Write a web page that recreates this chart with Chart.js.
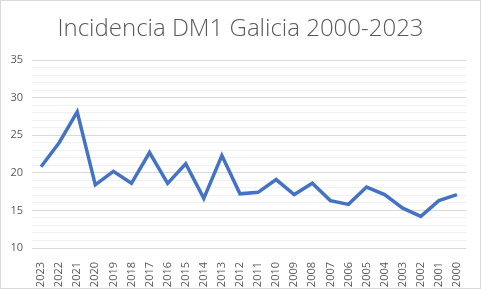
<!DOCTYPE html>
<html lang="es">
<head>
<meta charset="UTF-8">
<title>Incidencia DM1 Galicia</title>
<script src="https://cdn.jsdelivr.net/npm/chart.js"></script>
<style>
  html, body { margin: 0; padding: 0; background: #fff; }
  #wrap { width: 481px; height: 289px; }
</style>
</head>
<body>
<div id="wrap"><canvas id="dm1Chart" width="481" height="289"></canvas></div>
<script>
const years = ['2023','2022','2021','2020','2019','2018','2017','2016','2015','2014','2013','2012',
               '2011','2010','2009','2008','2007','2006','2005','2004','2003','2002','2001','2000'];
const incidence = [20.8, 24.0, 28.1, 18.4, 20.2, 18.6, 22.7, 18.6, 21.2, 16.6, 22.3, 17.2,
                   17.4, 19.1, 17.1, 18.6, 16.3, 15.8, 18.1, 17.1, 15.3, 14.2, 16.3, 17.1];
const yMin = 10, yMax = 35;
const chartTitle = 'Incidencia DM1 Galicia 2000-2023';

// fons blanc, vora grisa i títol centrat a tota l'amplada
const frame = {
  id: 'frame',
  beforeDraw(chart) {
    const c = chart.ctx;
    c.save();
    c.fillStyle = '#fff';
    c.fillRect(0, 0, chart.width, chart.height);
    c.strokeStyle = '#d9d9d9';
    c.lineWidth = 1;
    c.strokeRect(0.5, 0.5, chart.width - 1, chart.height - 1);
    c.fillStyle = '#595959';
    c.font = '300 24px "Open Sans"';
    c.textAlign = 'center';
    c.textBaseline = 'alphabetic';
    c.fillText(chartTitle, chart.width / 2, 36);
    c.restore();
  }
};

new Chart(document.getElementById('dm1Chart'), {
  type: 'line',
  data: {
    labels: years,
    datasets: [{
      data: incidence,
      borderColor: '#4472c4',
      borderWidth: 3.5,
      pointRadius: 0,
      tension: 0,
      fill: false
    }]
  },
  options: {
    responsive: false,
    animation: false,
    layout: { padding: { top: 60, right: 15, bottom: 0, left: 0 } },
    plugins: {
      legend: { display: false },
      tooltip: { enabled: false },
      title: { display: false }
    },
    scales: {
      x: {
        offset: true,
        grid: { display: false },
        border: { display: false },
        ticks: {
          color: '#595959',
          font: { family: 'Open Sans', size: 11 },
          minRotation: 90,
          maxRotation: 90,
          autoSkip: false,
          padding: 6
        },
        afterFit(scale) { scale.height = 41; }
      },
      y: {
        min: yMin,
        max: yMax,
        border: { display: false },
        grid: {
          drawTicks: false,
          lineWidth: 1,
          color: ctx => (ctx.tick && ctx.tick.value % 5 === 0) ? '#d9d9d9' : '#f0f0f0'
        },
        ticks: {
          stepSize: 1,
          autoSkip: false,
          padding: 9,
          color: '#595959',
          font: { family: 'Open Sans', size: 11 },
          callback: v => (v % 5 === 0 ? v : '')
        },
        afterFit(scale) { scale.width = 32; }
      }
    }
  },
  plugins: [frame]
});
</script>
</body>
</html>
